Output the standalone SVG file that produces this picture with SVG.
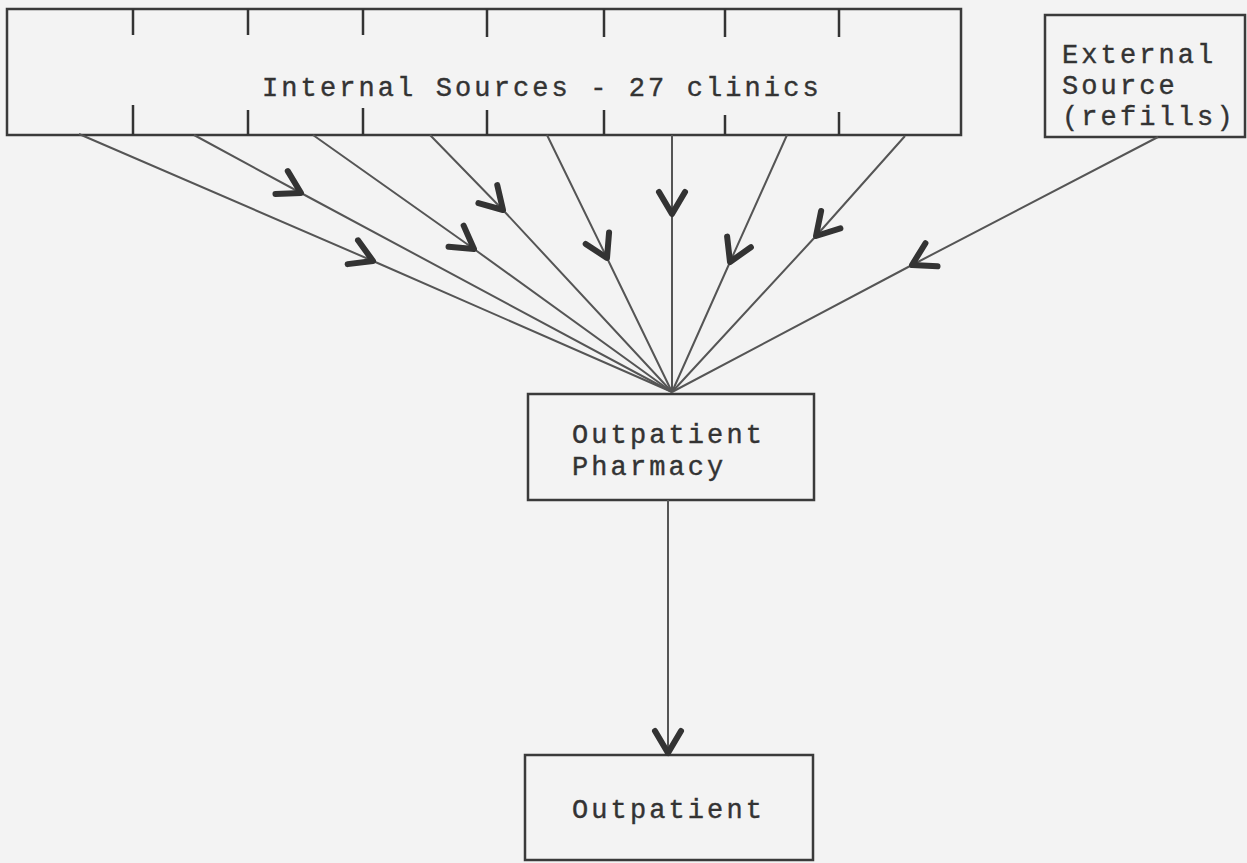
<svg xmlns="http://www.w3.org/2000/svg" width="1247" height="863" viewBox="0 0 1247 863">
  <style>
    .box { fill: none; stroke: #3a3a3a; stroke-width: 2.5; }
    .tick { stroke: #333; stroke-width: 2.5; }
    .txt { font-family: "Liberation Mono", "DejaVu Sans Mono", monospace; font-size: 27px; letter-spacing: 3.1px; fill: #333; stroke: #333; stroke-width: 0.4; }
    .conn { fill: none; stroke: #555; stroke-width: 2; }
  </style>
  <defs>
    <marker id="chev" markerUnits="userSpaceOnUse" viewBox="-30 -18 36 36" markerWidth="36" markerHeight="36" refX="0" refY="0" orient="auto" overflow="visible">
      <path d="M-22,-13 L0,0 L-22,13" fill="none" stroke="#333" stroke-width="6" stroke-linecap="round" stroke-linejoin="round"/>
    </marker>
  </defs>
  <rect x="0" y="0" width="1247" height="863" fill="#f3f3f3"/>

  <g id="internal-sources">
    <rect class="box" x="7" y="9" width="954" height="126"/>
    <g class="tick">
      <line x1="133" y1="9" x2="133" y2="35"/>
      <line x1="248" y1="9" x2="248" y2="35"/>
      <line x1="363" y1="9" x2="363" y2="35"/>
      <line x1="487" y1="9" x2="487" y2="37"/>
      <line x1="604" y1="9" x2="604" y2="37"/>
      <line x1="725" y1="9" x2="725" y2="37"/>
      <line x1="839" y1="9" x2="839" y2="37"/>
      <line x1="133" y1="105" x2="133" y2="135"/>
      <line x1="248" y1="110" x2="248" y2="135"/>
      <line x1="363" y1="108" x2="363" y2="135"/>
      <line x1="487" y1="110" x2="487" y2="135"/>
      <line x1="604" y1="110" x2="604" y2="135"/>
      <line x1="725" y1="115" x2="725" y2="135"/>
      <line x1="839" y1="112" x2="839" y2="135"/>
    </g>
    <text class="txt" x="262" y="96">Internal Sources - 27 clinics</text>
  </g>

  <g id="external-source">
    <rect class="box" x="1045" y="15" width="200" height="122"/>
    <text class="txt" x="1062" y="63">External</text>
    <text class="txt" x="1062" y="94">Source</text>
    <text class="txt" x="1062" y="125">(refills)</text>
  </g>

  <g id="outpatient-pharmacy">
    <rect class="box" x="528" y="394" width="286" height="106"/>
    <text class="txt" x="572" y="443">Outpatient</text>
    <text class="txt" x="572" y="475">Pharmacy</text>
  </g>

  <g id="outpatient">
    <rect class="box" x="525" y="755" width="288" height="105"/>
    <text class="txt" x="572" y="818">Outpatient</text>
  </g>

  <g id="connectors">
    <path class="conn" marker-mid="url(#chev)" d="M79,134 L373,261 L672,392"/>
    <path class="conn" marker-mid="url(#chev)" d="M194,135 L301,193 L672,392"/>
    <path class="conn" marker-mid="url(#chev)" d="M313,135 L474,249 L672,392"/>
    <path class="conn" marker-mid="url(#chev)" d="M430,135 L503,210 L672,392"/>
    <path class="conn" marker-mid="url(#chev)" d="M547,135 L607,258 L672,392"/>
    <path class="conn" marker-mid="url(#chev)" d="M672,135 L672,214 L672,392"/>
    <path class="conn" marker-mid="url(#chev)" d="M787,135 L730,262 L672,392"/>
    <path class="conn" marker-mid="url(#chev)" d="M905,136 L816,236 L672,392"/>
    <path class="conn" marker-mid="url(#chev)" d="M1158,137 L912,265 L672,392"/>
    <path class="conn" marker-end="url(#chev)" d="M668,500 L668,753"/>
  </g>
</svg>
